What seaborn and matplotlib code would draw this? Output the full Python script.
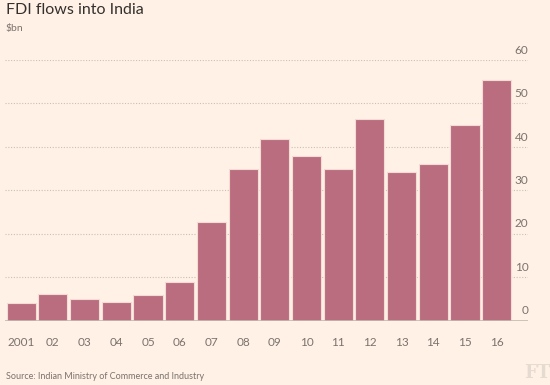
import matplotlib
matplotlib.use("Agg")
import matplotlib.pyplot as plt
import matplotlib.transforms as mtransforms
import seaborn as sns
import pandas as pd

# data ($bn)
years = ["2001", "02", "03", "04", "05", "06", "07", "08",
         "09", "10", "11", "12", "13", "14", "15", "16"]
fdi = [4.0, 6.1, 5.0, 4.2, 6.0, 8.9, 22.7, 34.8,
       41.8, 37.8, 34.9, 46.5, 34.3, 36.0, 45.1, 55.5]
y_ticks = [0, 10, 20, 30, 40, 50, 60]

bg = "#fff1e5"
bar_col = "#bb6d80"
grey = "#7a736d"

sns.set_style("white")
plt.rcParams["font.family"] = ["Lato", "DejaVu Sans"]

df = pd.DataFrame({"year": years, "fdi": fdi})

fig = plt.figure(figsize=(5.5, 3.85), dpi=100, facecolor=bg)
ax = fig.add_axes([5.35 / 550, (385 - 320.7) / 385, (528.4 - 5.35) / 550, 260.7 / 385])
ax.set_facecolor(bg)

# dotted gridlines behind the bars
for v in y_ticks[1:]:
    ax.axhline(v, color="#c9c0b8", lw=0.8, ls=(0, (1, 1.5)), zorder=0)

sns.barplot(data=df, x="year", y="fdi", color=bar_col, width=0.915,
            edgecolor="#f3dcd6", linewidth=0.8, saturation=1, ax=ax, zorder=2)

ax.axhline(0, color="#c2bab2", lw=1.2, zorder=3)
ax.set_xlim(-0.5, 16.0)
ax.set_ylim(0, 60)

for s in ax.spines.values():
    s.set_visible(False)
ax.set_yticks([])
ax.set_xlabel("")
ax.set_ylabel("")
ax.tick_params(axis="x", length=0, pad=12, labelsize=8.5, labelcolor=grey)

# right-hand labels sit above their gridlines
trans = mtransforms.blended_transform_factory(ax.transAxes, ax.transData)
for v in y_ticks:
    ax.text(1.0, v + 1.0, str(v), transform=trans, ha="right", va="bottom",
            fontsize=8.5, color=grey, clip_on=False)

fig.text(6 / 550, 1 - 10 / 385, "FDI flows into India", fontsize=11.5,
         color="#33302e", ha="left", va="center")
fig.text(6 / 550, 1 - 29 / 385, "$bn", fontsize=7.5, color=grey,
         ha="left", va="center")
fig.text(6 / 550, 1 - 376.7 / 385, "Source: Indian Ministry of Commerce and Industry",
         fontsize=6.5, color=grey, ha="left", va="center")
fig.text(537 / 550, 1 - 373.5 / 385, "FT", fontsize=13, family="DejaVu Serif",
         color="#e6dbd1", ha="center", va="center", weight="bold")

fig.savefig("out.png", dpi=100, facecolor=bg)
